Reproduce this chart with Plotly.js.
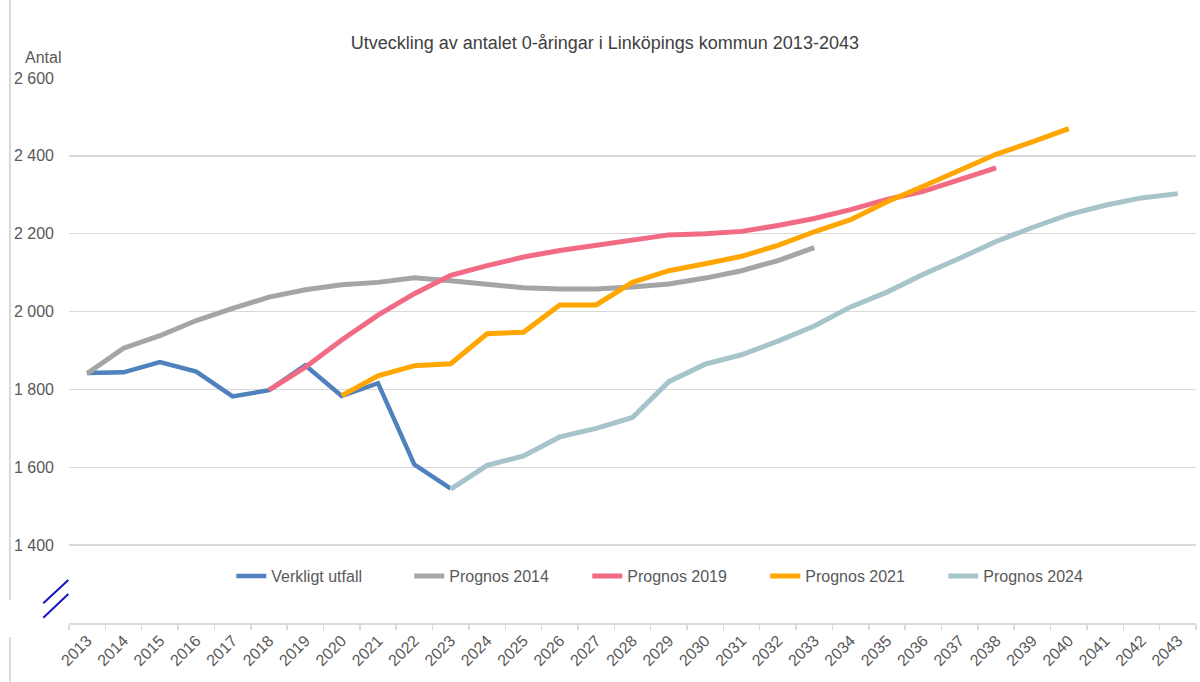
<!DOCTYPE html>
<html>
<head>
<meta charset="utf-8">
<script src="https://cdn.plot.ly/plotly-3.0.1.min.js"></script>
<style>html,body{margin:0;padding:0;background:#fff;}#chart{width:1200px;height:682px;}</style>
</head>
<body>
<div id="chart"></div>
<script>
var years = ['2013','2014','2015','2016','2017','2018','2019','2020','2021','2022','2023','2024','2025','2026','2027','2028','2029','2030','2031','2032','2033','2034','2035','2036','2037','2038','2039','2040','2041','2042','2043'];

var verkligtYears = years.slice(0, 11);   // 2013-2023
var verkligt = [1842, 1844, 1870, 1846, 1782, 1798, 1862, 1783, 1816, 1607, 1545];

var prognos2014Years = years.slice(0, 21); // 2013-2033
var prognos2014 = [1841, 1906, 1938, 1977, 2008, 2037, 2056, 2069, 2075, 2087, 2079, 2069, 2061, 2058, 2058, 2063, 2071, 2086, 2105, 2131, 2164];

var prognos2019Years = years.slice(5, 26); // 2018-2038
var prognos2019 = [1798, 1857, 1927, 1991, 2046, 2093, 2118, 2140, 2157, 2170, 2183, 2197, 2200, 2206, 2221, 2239, 2262, 2288, 2309, 2339, 2369];

var prognos2021Years = years.slice(7, 28); // 2020-2040
var prognos2021 = [1784, 1835, 1861, 1866, 1943, 1947, 2017, 2017, 2075, 2105, 2123, 2142, 2170, 2205, 2236, 2282, 2322, 2363, 2404, 2436, 2470];

var prognos2024Years = years.slice(10, 31); // 2023-2043
var prognos2024 = [1544, 1605, 1629, 1678, 1700, 1728, 1820, 1865, 1889, 1924, 1963, 2012, 2050, 2096, 2137, 2180, 2216, 2249, 2273, 2292, 2303];

var yTickVals = [1400, 1600, 1800, 2000, 2200, 2400, 2600];
var yTickText = ['1 400', '1 600', '1 800', '2 000', '2 200', '2 400', '2 600'];

var seriesNames = ['Verkligt utfall', 'Prognos 2014', 'Prognos 2019', 'Prognos 2021', 'Prognos 2024'];

var font = 'Liberation Sans, Arial, sans-serif';

function line(x, y, name, color, width) {
  return {x: x, y: y, name: name, type: 'scatter', mode: 'lines',
          line: {color: color, width: width, shape: 'linear'}, hoverinfo: 'x+y+name'};
}

var data = [
  line(verkligtYears, verkligt, seriesNames[0], '#4f81bd', 4.5),
  line(prognos2014Years, prognos2014, seriesNames[1], '#a5a5a5', 5),
  line(prognos2019Years, prognos2019, seriesNames[2], '#f26b84', 5),
  line(prognos2021Years, prognos2021, seriesNames[3], '#ffa600', 5),
  line(prognos2024Years, prognos2024, seriesNames[4], '#a6c4c9', 5)
];

var layout = {
  width: 1200, height: 682,
  margin: {l: 69, r: 4, t: 78, b: 59},
  paper_bgcolor: '#ffffff', plot_bgcolor: '#ffffff',
  font: {family: font, color: '#595959', size: 16},
  title: {text: 'Utveckling av antalet 0-åringar i Linköpings kommun 2013-2043',
          font: {family: font, size: 18, color: '#404040'},
          xref: 'container', yref: 'container', x: 0.504, y: 0.938, xanchor: 'center', yanchor: 'middle'},
  showlegend: true,
  legend: {orientation: 'h', x: 0.144, xanchor: 'left', y: 0.086, yanchor: 'middle',
           entrywidth: 133, entrywidthmode: 'pixels',
           font: {family: font, size: 16, color: '#595959'}, bgcolor: 'rgba(0,0,0,0)',
           traceorder: 'normal'},
  xaxis: {
    type: 'category', categoryorder: 'array', categoryarray: years,
    range: [-0.5, 30.5], fixedrange: true,
    showgrid: false, zeroline: false,
    showline: true, linecolor: '#d9d9d9', linewidth: 2,
    ticks: 'outside', tickson: 'boundaries', ticklen: 5, tickwidth: 1.5, tickcolor: '#d9d9d9',
    tickangle: -45, tickfont: {family: font, size: 16, color: '#595959'}
  },
  yaxis: {
    range: [1200, 2600], fixedrange: true,
    tickmode: 'array', tickvals: yTickVals, ticktext: yTickText,
    showgrid: true, gridcolor: '#d9d9d9', gridwidth: 1.3,
    zeroline: false, showline: false, ticks: '',
    ticklabelstandoff: 14,
    tickfont: {family: font, size: 16, color: '#595959'}
  },
  annotations: [
    {text: 'Antal', xref: 'paper', yref: 'paper', x: -0.0231, y: 1.037, showarrow: false,
     xanchor: 'center', yanchor: 'middle', font: {family: font, size: 16, color: '#595959'}}
  ],
  shapes: [
    {type: 'line', xref: 'paper', yref: 'paper', x0: -0.0524, x1: -0.0524, y0: 0.0422, y1: 1.143,
     line: {color: '#d9d9d9', width: 2}},
    {type: 'line', xref: 'paper', yref: 'paper', x0: -0.0524, x1: -0.0524, y0: -0.108, y1: -0.0257,
     line: {color: '#d9d9d9', width: 2}},
    {type: 'line', xref: 'paper', yref: 'paper', x0: -0.0228, x1: -0.0006, y0: 0.0361, y1: 0.0789,
     line: {color: '#1414c8', width: 2}},
    {type: 'line', xref: 'paper', yref: 'paper', x0: -0.0228, x1: -0.0006, y0: 0.0097, y1: 0.0532,
     line: {color: '#1414c8', width: 2}}
  ]
};

Plotly.newPlot('chart', data, layout, {displayModeBar: false, staticPlot: true});
</script>
</body>
</html>
